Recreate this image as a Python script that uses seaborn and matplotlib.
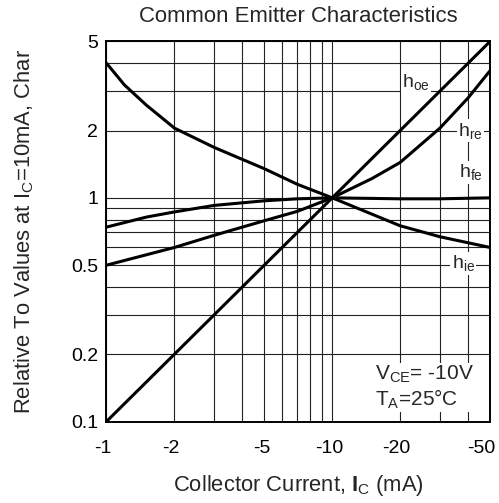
import matplotlib
matplotlib.use("Agg")
import matplotlib.pyplot as plt
import matplotlib.transforms as mtransforms
import seaborn as sns
import pandas as pd

# Akım değerleri (mA) ve her parametre için okunan bağıl değerler
IC_HOE = [1, 10, 50]
HOE = [0.1, 1.0, 5.0]

IC_HRE = [1, 2, 3, 5, 7, 10, 15, 20, 30, 40, 50]
HRE = [0.5, 0.6, 0.68, 0.79, 0.87, 1.0, 1.22, 1.44, 2.05, 2.8, 3.7]

IC_HFE = [1, 1.5, 2, 3, 5, 7, 10, 20, 30, 50]
HFE = [0.74, 0.82, 0.865, 0.925, 0.97, 0.99, 1.0, 0.99, 0.99, 1.0]

IC_HIE = [1, 1.2, 1.5, 2, 3, 5, 7, 10, 20, 30, 50]
HIE = [4.0, 3.2, 2.6, 2.05, 1.68, 1.35, 1.15, 1.0, 0.75, 0.67, 0.6]

X_TICKS = [1, 2, 5, 10, 20, 50]
X_TICK_LABELS = ["-1", "-2", "-5", "-10", "-20", "-50"]
X_MINOR = [3, 4, 6, 7, 8, 9, 30, 40]
Y_TICKS = [0.1, 0.2, 0.5, 1, 2, 5]
Y_TICK_LABELS = ["0.1", "0.2", "0.5", "1", "2", "5"]
Y_MINOR = [0.3, 0.4, 0.6, 0.7, 0.8, 0.9, 3, 4]

CURVE_LABELS = ["h$_{\\mathrm{oe}}$", "h$_{\\mathrm{re}}$",
                "h$_{\\mathrm{fe}}$", "h$_{\\mathrm{ie}}$"]
LABEL_X = [23.5, 41, 41, 38]
LABEL_Y = [3.3, 2.0, 1.3, 0.51]


def build_frame():
    parts = []
    for name, ic, val in [("hoe", IC_HOE, HOE), ("hre", IC_HRE, HRE),
                          ("hfe", IC_HFE, HFE), ("hie", IC_HIE, HIE)]:
        parts.append(pd.DataFrame({"Ic": ic, "Rel": val, "Param": name}))
    return pd.concat(parts, ignore_index=True)


def plot_characteristics(df):
    sns.set_style("white")
    plt.rcParams["font.family"] = ["Liberation Sans", "DejaVu Sans"]
    plt.rcParams["mathtext.fontset"] = "custom"
    plt.rcParams["mathtext.rm"] = "Liberation Sans"
    plt.rcParams["mathtext.it"] = "Liberation Sans:italic"
    plt.rcParams["mathtext.bf"] = "Liberation Sans:bold"

    fig = plt.figure(figsize=(4.99, 5.03), dpi=100)
    ax = fig.add_axes([0.2134, 0.162, 0.982 - 0.2134, 0.9175 - 0.162])
    ax.set_xscale("log")
    ax.set_yscale("log")

    sns.lineplot(data=df, x="Ic", y="Rel", units="Param", estimator=None,
                 color="black", linewidth=2.2, sort=False, ax=ax, zorder=3)

    ax.set_xlim(1, 50)
    ax.set_ylim(0.1, 5)
    ax.set_xticks(X_TICKS)
    ax.set_xticklabels(X_TICK_LABELS)
    ax.set_xticks(X_MINOR, minor=True)
    ax.set_yticks(Y_TICKS)
    ax.set_yticklabels(Y_TICK_LABELS)
    ax.set_yticks(Y_MINOR, minor=True)
    ax.tick_params(which="both", length=0, labelsize=14, colors="black")
    ax.tick_params(axis="x", pad=13)
    ax.tick_params(axis="y", pad=6)
    ax.grid(which="both", color="#222222", linewidth=0.8)

    # x etiketleri referansta biraz sola kaymış, -50 kenara sığsın
    shifts = [-4, -4, -2, -3, -4, -9]
    for lab, dx in zip(ax.get_xticklabels(), shifts):
        lab.set_transform(lab.get_transform() + mtransforms.ScaledTranslation(
            dx / 100, 0, fig.dpi_scale_trans))

    for s in ax.spines.values():
        s.set_color("black")
        s.set_linewidth(1.4)

    ax.set_title("Common Emitter Characteristics", fontsize=15.9, pad=14)
    ax.set_xlabel("Collector Current, $\\mathbf{I}_{\\mathrm{C}}$ (mA)",
                  fontsize=15.8, labelpad=12)
    ax.set_ylabel("Relative To Values at I$_{\\mathrm{C}}$=10mA, Char",
                  fontsize=15.8, labelpad=25)

    box = dict(facecolor="white", edgecolor="none", pad=1.0)
    for txt, x, y in zip(CURVE_LABELS, LABEL_X, LABEL_Y):
        ax.text(x, y, txt, fontsize=14, ha="center", va="center",
                bbox=box, zorder=4)

    ax.text(0.70, 0.09, "V$_{\\mathrm{CE}}$= -10V\nT$_{\\mathrm{A}}$=25\u00b0C",
            transform=ax.transAxes, fontsize=15, ha="left", va="center",
            linespacing=1.1, bbox=box, zorder=4)

    fig.savefig("out.png", dpi=100)


if __name__ == "__main__":
    plot_characteristics(build_frame())
